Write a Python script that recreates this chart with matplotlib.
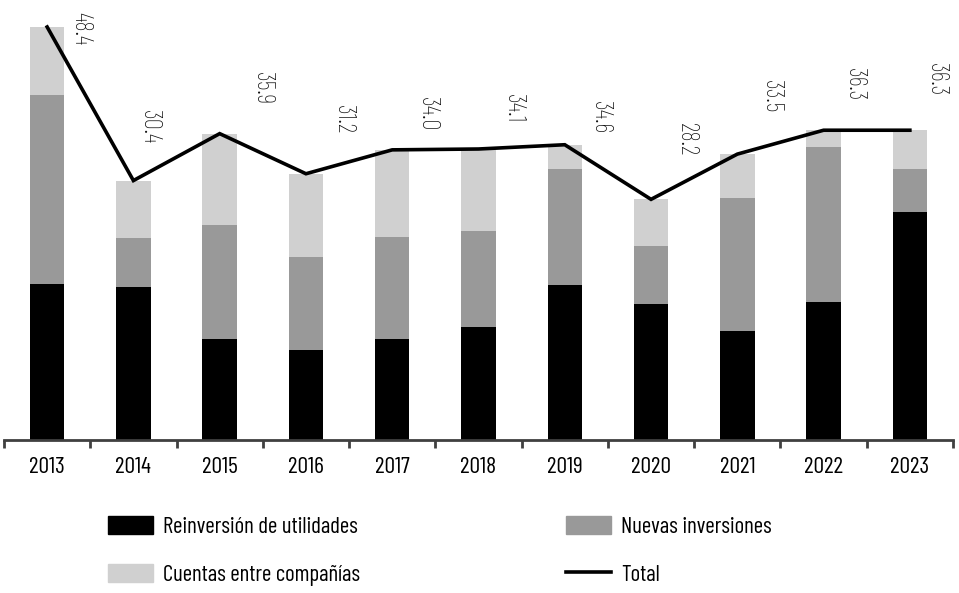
import matplotlib
matplotlib.use("Agg")
import matplotlib.pyplot as plt
from matplotlib.patches import Patch
from matplotlib.lines import Line2D
import numpy as np

FONT = ['Barlow Condensed', 'Roboto Condensed', 'DejaVu Sans']
plt.rcParams['font.family'] = FONT

years = ['2013', '2014', '2015', '2016', '2017', '2018', '2019', '2020', '2021', '2022', '2023']
reinversion = [18.3, 17.9, 11.8, 10.6, 11.8, 13.2, 18.2, 15.9, 12.8, 16.2, 26.7]
nuevas = [22.1, 5.8, 13.4, 10.9, 12.0, 11.3, 13.5, 6.8, 15.5, 18.1, 5.0]
cuentas = [8.0, 6.7, 10.7, 9.7, 10.2, 9.6, 2.9, 5.5, 5.2, 2.0, 4.6]
total = [48.4, 30.4, 35.9, 31.2, 34.0, 34.1, 34.6, 28.2, 33.5, 36.3, 36.3]
total_labels = ['48.4', '30.4', '35.9', '31.2', '34.0', '34.1', '34.6', '28.2', '33.5', '36.3', '36.3']
series_names = ['Reinversión de utilidades', 'Cuentas entre compañías', 'Nuevas inversiones', 'Total']

# layout of value labels (x offset from bar centre, top of label in data units)
label_dx = [0.39, 0.19, 0.50, 0.43, 0.41, 0.41, 0.41, 0.41, 0.39, 0.36, 0.31]
label_top = [50.2, 38.7, 43.1, 39.2, 40.2, 40.6, 39.7, 37.2, 42.2, 43.6, 44.2]

C_BLACK = '#000000'
C_GREY = '#999999'
C_LIGHT = '#d0d0d0'
C_AXIS = '#404040'

W, H = 959, 593
fig = plt.figure(figsize=(W / 100, H / 100), dpi=100)
ax = fig.add_axes([4 / W, (H - 440) / H, 949 / W, 440 / H])

x = np.arange(len(years))
bw = 0.40
r = np.array(reinversion)
n = np.array(nuevas)
c = np.array(cuentas)
ax.bar(x, r, bw, color=C_BLACK, linewidth=0)
ax.bar(x, n, bw, bottom=r, color=C_GREY, linewidth=0)
ax.bar(x, c, bw, bottom=r + n, color=C_LIGHT, linewidth=0)
ax.plot(x, total, color='black', linewidth=2.6, solid_joinstyle='miter', zorder=5)

for i in range(len(years)):
    ax.text(x[i] + label_dx[i], label_top[i], total_labels[i], rotation=270,
            ha='center', va='top', fontsize=18, fontweight='light', color='#111111',
            clip_on=False)

ax.set_xlim(-0.5, len(years) - 0.5)
ax.set_ylim(0, 51.56)
for s in ['top', 'right', 'left']:
    ax.spines[s].set_visible(False)
ax.spines['bottom'].set_color(C_AXIS)
ax.spines['bottom'].set_linewidth(2)
ax.set_yticks([])
ax.set_xticks(x)
ax.set_xticklabels(years, fontsize=17)
ax.tick_params(axis='x', which='major', length=0, pad=12)
ax.set_xticks(np.arange(-0.5, len(years)), minor=True)
ax.tick_params(axis='x', which='minor', length=6, width=2, color=C_AXIS)

handles = [Patch(color=C_BLACK), Patch(color=C_LIGHT), Patch(color=C_GREY),
           Line2D([0], [0], color='black', linewidth=2.6)]
fig.legend(handles, series_names, ncol=2, loc='upper left',
           bbox_to_anchor=(87 / W, 1 - 495 / H),
           frameon=False, fontsize=16.5, handlelength=1.96, handleheight=0.87,
           handletextpad=0.44, columnspacing=9.0, labelspacing=1.13, borderpad=0.4)

fig.savefig('out.png', dpi=100)
